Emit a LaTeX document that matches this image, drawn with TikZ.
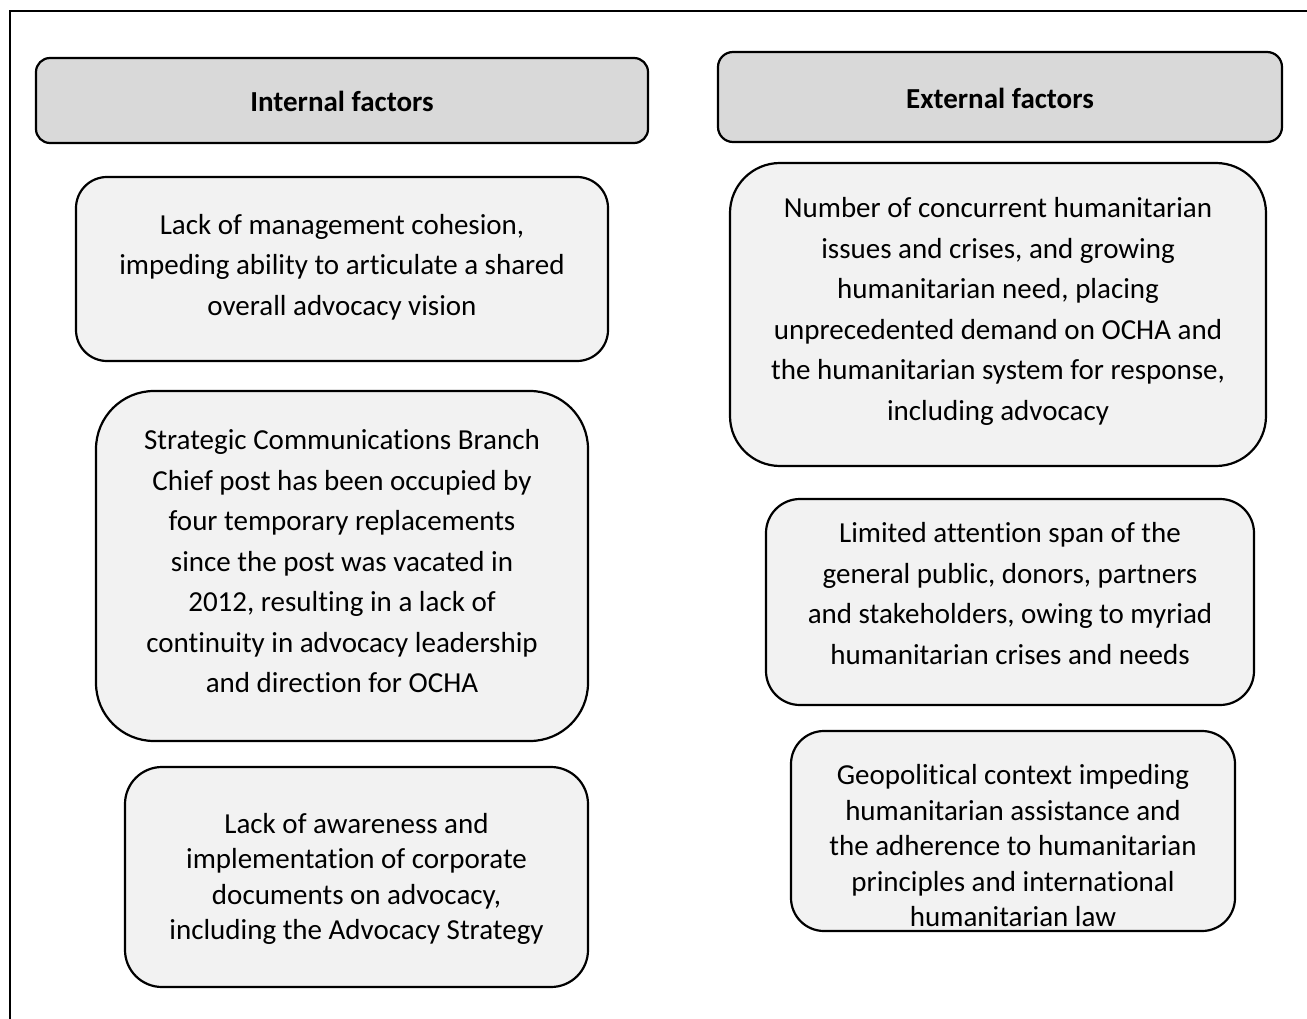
\documentclass[tikz,border=0pt]{standalone}
\usepackage{fontspec}
\setmainfont{Carlito}[RawFeature={-liga}]
\usetikzlibrary{positioning}

\tikzset{
  head/.style={draw, line width=2.2pt, fill=headgray, inner sep=0pt},
  factor/.style={draw, line width=2.2pt, fill=boxgray, inner sep=0pt},
  headtxt/.style={font=\fontsize{29}{34}\selectfont\bfseries, inner sep=0pt},
  facttxt/.style={align=center, inner sep=0pt, font=\fontsize{29}{40.5}\selectfont},
  facttight/.style={align=center, inner sep=0pt, font=\fontsize{29}{35.5}\selectfont}
}
\definecolor{headgray}{HTML}{D9D9D9}
\definecolor{boxgray}{HTML}{F2F2F2}

\begin{document}
\begin{tikzpicture}[x=1pt, y=-1pt]
\useasboundingbox (0,0) rectangle (1307,1019);
\draw[line width=2.4pt] (10,1019) -- (10,11) -- (1307,11);

% headings
\node[head, rounded corners=14pt, minimum width=612pt, minimum height=85pt] (inthead) at (342,100.5) {};
\node[head, rounded corners=15pt, minimum width=564pt, minimum height=90pt] (exthead) at (1000,97) {};
\node[headtxt] (inttxt) at (342,101) {Internal factors};
\node[headtxt] (exttxt) at (1000,98) {External factors};

% internal factors
\node[factor, rounded corners=31pt, minimum width=532pt, minimum height=184pt] (int1) at (342,269) {};
\node[factor, rounded corners=58pt, minimum width=492pt, minimum height=350pt] (int2) at (342,566) {};
\node[factor, rounded corners=37pt, minimum width=463pt, minimum height=220pt] (int3) at (356.5,877) {};
\node[facttxt] (int1txt) at (342,267) {Lack of management cohesion,\\impeding ability to articulate a shared\\overall advocacy vision};
\node[facttxt] (int2txt) at (342,561.5) {Strategic Communications Branch\\Chief post has been occupied by\\four temporary replacements\\since the post was vacated in\\2012, resulting in a lack of\\continuity in advocacy leadership\\and direction for OCHA};
\node[facttight] (int3txt) at (356.5,879) {Lack of awareness and\\implementation of corporate\\documents on advocacy,\\including the Advocacy Strategy};

% external factors
\node[factor, rounded corners=50pt, minimum width=536pt, minimum height=303pt] (ext1) at (998,314.5) {};
\node[factor, rounded corners=34pt, minimum width=488pt, minimum height=206pt] (ext2) at (1010,602) {};
\node[factor, rounded corners=33pt, minimum width=444pt, minimum height=200pt] (ext3) at (1013,831) {};
\node[facttxt] (ext1txt) at (998,311.5) {Number of concurrent humanitarian\\issues and crises, and growing\\humanitarian need, placing\\unprecedented demand on OCHA and\\the humanitarian system for response,\\including advocacy};
\node[facttxt] (ext2txt) at (1010,593.5) {Limited attention span of the\\general public, donors, partners\\and stakeholders, owing to myriad\\humanitarian crises and needs};
\node[facttight] (ext3txt) at (1013,846) {Geopolitical context impeding\\humanitarian assistance and\\the adherence to humanitarian\\principles and international\\humanitarian law};
\end{tikzpicture}
\end{document}
